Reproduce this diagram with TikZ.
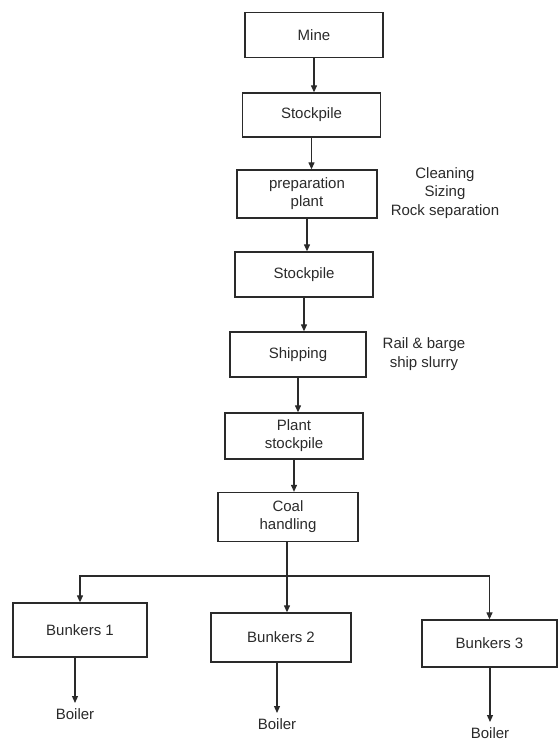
\documentclass[tikz,border=0pt]{standalone}
\usepackage{fontspec}
\setmainfont{Liberation Sans}
\usetikzlibrary{arrows.meta}
\definecolor{ink}{HTML}{2A2A2A}
\tikzset{
  box/.style={draw=ink, line width=1.3pt, minimum width=138pt, minimum height=46pt,
    inner sep=2pt, align=center, text=ink, font=\fontsize{15}{18}\selectfont},
  lbl/.style={align=center, text=ink, inner sep=1pt, font=\fontsize{15}{18.5}\selectfont},
  arr/.style={draw=ink, line width=1.2pt, -{Triangle[length=7pt,width=6pt]}},
  ln/.style={draw=ink, line width=1.2pt}
}
\begin{document}
\begin{tikzpicture}[x=1pt,y=-1pt]
\useasboundingbox (0,0) rectangle (559,742);
\node[box, minimum height=45pt] (mine) at (314,35) {Mine};
\node[box, minimum height=44pt] (st1) at (311.5,115) {Stockpile};
\node[box, minimum width=140pt, minimum height=48pt] (prep) at (307,194) {preparation\\plant};
\node[box, minimum height=45pt] (st2) at (304,274.5) {Stockpile};
\node[box, minimum width=136pt, minimum height=45pt] (ship) at (298,354.5) {Shipping};
\node[box] (plant) at (294,436) {Plant\\stockpile};
\node[box, minimum width=140pt, minimum height=49pt] (coal) at (288,517) {Coal\\handling};
\node[box, minimum width=134pt, minimum height=54pt] (b1) at (80,630) {Bunkers 1};
\node[box, minimum width=140pt, minimum height=49pt] (b2) at (281,637.5) {Bunkers 2};
\node[box, minimum width=135pt, minimum height=47pt] (b3) at (489.5,643.5) {Bunkers 3};
\node[lbl] (n1) at (445,193) {Cleaning\\Sizing\\Rock separation};
\node[lbl] (n2) at (424,354) {Rail \& barge\\ship slurry};
\node[lbl, anchor=north] (bo1) at (75,707) {Boiler};
\node[lbl, anchor=north] (bo2) at (277,717) {Boiler};
\node[lbl, anchor=north] (bo3) at (490,726) {Boiler};
\draw[arr] (mine.south) -- (mine.south |- st1.north);
\draw[arr] (st1.south) -- (st1.south |- prep.north);
\draw[arr] (prep.south) -- (prep.south |- st2.north);
\draw[arr] (st2.south) -- (st2.south |- ship.north);
\draw[arr] (ship.south) -- (ship.south |- plant.north);
\draw[arr] (plant.south) -- (plant.south |- coal.north);
\coordinate (split) at (287,576);
\draw[ln] (coal.south -| split) -- (split);
\draw[arr] (split) -| (b1.north);
\draw[arr] (split) -| (b3.north);
\draw[arr] (split) -- (split |- b2.north);
\draw[arr] (b1.south -| bo1.north) -- ([yshift=4pt]bo1.north);
\draw[arr] (b2.south -| bo2.north) -- ([yshift=4pt]bo2.north);
\draw[arr] (b3.south -| bo3.north) -- ([yshift=4pt]bo3.north);
\end{tikzpicture}
\end{document}
